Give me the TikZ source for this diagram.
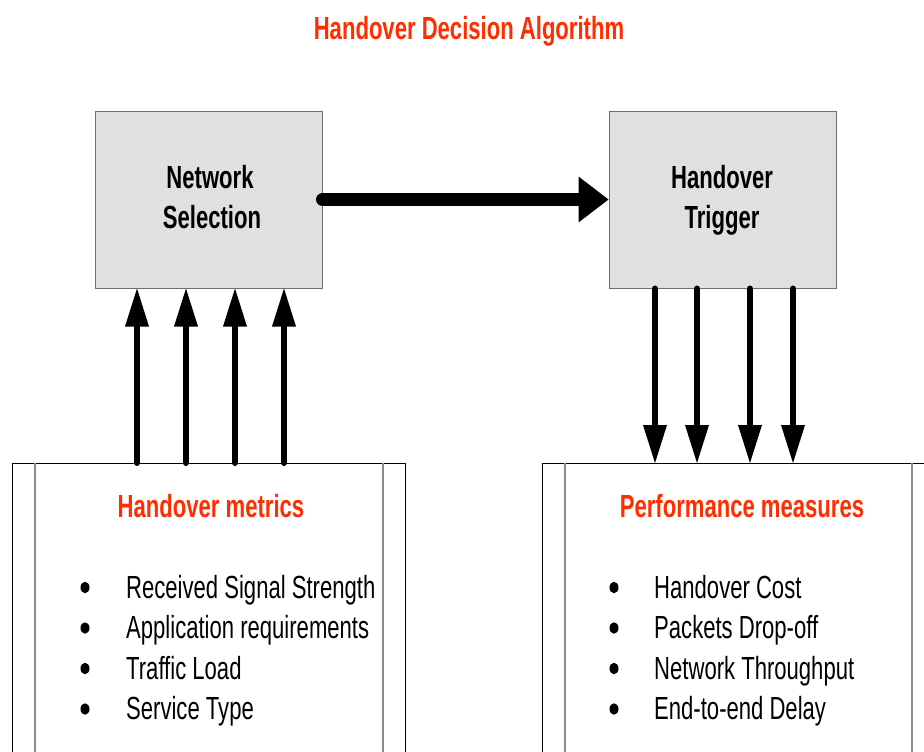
\documentclass[tikz,border=0pt]{standalone}
\usepackage{fontspec}
\setmainfont[FakeStretch=0.69]{Liberation Sans}
\usetikzlibrary{arrows.meta,shapes.geometric}
\definecolor{hred}{RGB}{255,45,0}
\definecolor{boxgray}{RGB}{224,224,224}
\definecolor{edgegray}{RGB}{110,110,110}
\definecolor{innergray}{RGB}{140,140,140}
\begin{document}
\begin{tikzpicture}[x=1pt,y=-1pt,
  txt/.style={inner sep=0pt, font=\fontsize{32}{40}\selectfont},
  btxt/.style={txt, font=\fontsize{32}{40}\selectfont\bfseries},
  redtxt/.style={btxt, text=hred},
  dot/.style={ellipse, fill=black, inner sep=0pt, minimum width=9pt, minimum height=11.5pt},
  procbox/.style={draw=edgegray, line width=1pt, fill=boxgray, minimum width=227pt, minimum height=177pt, inner sep=0pt},
  uparr/.style={line width=6pt, line cap=round, -{Triangle[length=38pt,width=24pt,line width=0pt]}},
  downarr/.style={line width=6pt, line cap=round, -{Triangle[length=38pt,width=24pt,line width=0pt]}},
  bigarr/.style={line width=13pt, line cap=round, -{Triangle[length=30pt,width=46pt,line width=0pt]}},
  outer/.style={draw=black, line width=1pt},
  inner/.style={draw=innergray, line width=1.5pt}
]
\useasboundingbox (0,0) rectangle (924,752);

% title
\node[redtxt, anchor=base] (title) at (469,40) {Handover Decision Algorithm};

% process boxes
\node[procbox] (ns) at (208.5,199.5) {};
\node[procbox] (ht) at (722.5,199.5) {};
\node[btxt, anchor=base] (nsa) at (210,188) {Network};
\node[btxt, anchor=base] (nsb) at (212,228) {Selection};
\node[btxt, anchor=base] (hta) at (722,188) {Handover};
\node[btxt, anchor=base] (htb) at (722,228) {Trigger};

% lower panels
\draw[outer] (12,800) |- (405,463) -- (405,800);
\draw[inner] (35,463) -- (35,800);
\draw[inner] (383,463) -- (383,800);
\draw[outer] (542,800) |- (940,463);
\draw[inner] (565,463) -- (565,800);
\draw[inner] (912,463) -- (912,800);

% connector end points on panel tops
\coordinate (u1) at (137,463);
\coordinate (u2) at (186,463);
\coordinate (u3) at (235,463);
\coordinate (u4) at (284,463);
\coordinate (d1) at (655,463);
\coordinate (d2) at (697,463);
\coordinate (d3) at (750,463);
\coordinate (d4) at (793,463);

\draw[bigarr] (ns.east) -- (ht.west);
\foreach \c in {u1,u2,u3,u4}{
  \draw[uparr] (\c) -- (\c |- ns.south);
}
\foreach \c in {d1,d2,d3,d4}{
  \draw[downarr] (\c |- ht.south) -- (\c);
}

% headings
\node[redtxt, anchor=base] (hm) at (211,517) {Handover metrics};
\node[redtxt, anchor=base] (pm) at (742,517) {Performance measures};

% left list
\node[dot] (lb1) at (85,587.5) {};
\node[dot] (lb2) at (85,628) {};
\node[dot] (lb3) at (85,668.5) {};
\node[dot] (lb4) at (85,709) {};
\node[txt, anchor=base west] (li1) at (126,598) {Received Signal Strength};
\node[txt, anchor=base west] (li2) at (126,638.5) {Application requirements};
\node[txt, anchor=base west] (li3) at (126,679) {Traffic Load};
\node[txt, anchor=base west] (li4) at (126,719.5) {Service Type};

% right list
\node[dot] (rb1) at (614,587.5) {};
\node[dot] (rb2) at (614,628) {};
\node[dot] (rb3) at (614,668.5) {};
\node[dot] (rb4) at (614,709) {};
\node[txt, anchor=base west] (ri1) at (654,598) {Handover Cost};
\node[txt, anchor=base west] (ri2) at (654,638.5) {Packets Drop-off};
\node[txt, anchor=base west] (ri3) at (654,679) {Network Throughput};
\node[txt, anchor=base west] (ri4) at (654,719.5) {End-to-end Delay};
\end{tikzpicture}
\end{document}
